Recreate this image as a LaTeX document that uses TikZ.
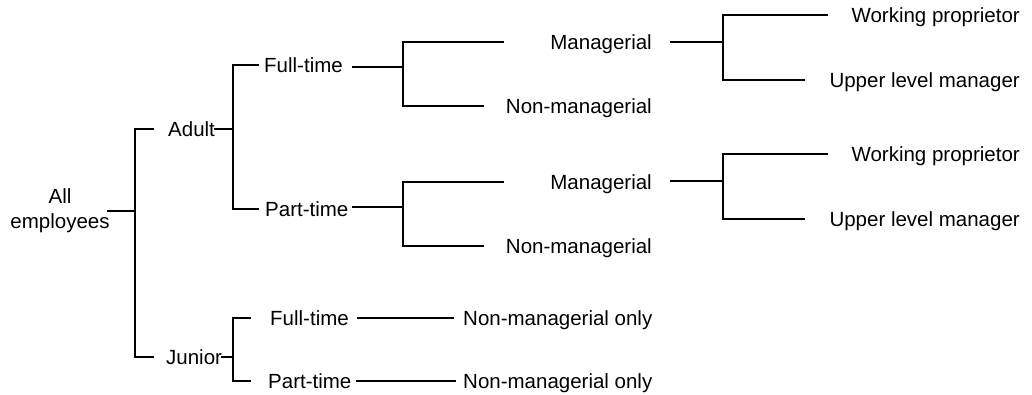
\documentclass[tikz,border=0pt]{standalone}
\usepackage{fontspec}
\setmainfont{Liberation Sans}
\begin{document}
\begin{tikzpicture}[x=1pt,y=-1pt,
  lbl/.style={inner sep=0pt, font=\fontsize{20.5}{25}\selectfont, text height=14.7pt, text depth=0pt},
  conn/.style={line width=1.6pt, line cap=rect}]
\useasboundingbox (0,0) rectangle (1032,394);
% nodes
\node[lbl, align=center, text depth=5pt] (all) at (60,224) {All\\employees};
\node[lbl, anchor=west] (adult) at (168,129) {Adult};
\node[lbl, anchor=west] (ft1) at (264,65) {Full-time};
\node[lbl, anchor=west] (pt1) at (265,209) {Part-time};
\node[lbl, anchor=east] (man1) at (652,42) {Managerial};
\node[lbl, anchor=east] (non1) at (652,106) {Non-managerial};
\node[lbl, anchor=east] (man2) at (652,182) {Managerial};
\node[lbl, anchor=east] (non2) at (652,246) {Non-managerial};
\node[lbl, anchor=east] (wp1) at (1020,15) {Working proprietor};
\node[lbl, anchor=east] (ul1) at (1020,80) {Upper level manager};
\node[lbl, anchor=east] (wp2) at (1020,154) {Working proprietor};
\node[lbl, anchor=east] (ul2) at (1020,219) {Upper level manager};
\node[lbl, anchor=west] (junior) at (166,357) {Junior};
\node[lbl, anchor=west] (ft3) at (270,318) {Full-time};
\node[lbl, anchor=west] (pt3) at (268,381) {Part-time};
\node[lbl, anchor=west] (nmo1) at (463,318) {Non-managerial only};
\node[lbl, anchor=west] (nmo2) at (463,381) {Non-managerial only};
% junctions
\coordinate (j0) at (135,211);
\coordinate (j1) at (233,129);
\coordinate (j2) at (403,67);
\coordinate (j3) at (403,207);
\coordinate (j4) at (723,42);
\coordinate (j5) at (723,181);
\coordinate (j6) at (233,357);
% connectors
\draw[conn] ([xshift=-2pt]all.east |- j0) -- (j0);
\draw[conn] ([xshift=-15pt]adult.west) -| (j0) |- ([xshift=-13pt]junior.west);
\draw[conn] (adult.east) -- (j1);
\draw[conn] ([xshift=-6pt]ft1.west) -| (j1) |- ([xshift=-7pt]pt1.west);
\draw[conn] ([xshift=10pt]ft1.east |- j2) -- (j2);
\draw[conn] ([xshift=-47pt]man1.west) -| (j2) |- ([xshift=-23pt]non1.west);
\draw[conn] ([xshift=4pt]pt1.east |- j3) -- (j3);
\draw[conn] ([xshift=-47pt]man2.west) -| (j3) |- ([xshift=-23pt]non2.west);
\draw[conn] ([xshift=19pt]man1.east |- j4) -- (j4);
\draw[conn] ([xshift=-24pt]wp1.west) -| (j4) |- ([xshift=-25pt]ul1.west);
\draw[conn] ([xshift=19pt]man2.east |- j5) -- (j5);
\draw[conn] ([xshift=-24pt]wp2.west) -| (j5) |- ([xshift=-25pt]ul2.west);
\draw[conn] (junior.east) -- (j6);
\draw[conn] ([xshift=-20pt]ft3.west) -| (j6) |- ([xshift=-18pt]pt3.west);
\draw[conn] ([xshift=9pt]ft3.east) -- ([xshift=-10pt]nmo1.west);
\draw[conn] ([xshift=5pt]pt3.east) -- ([xshift=-8pt]nmo2.west);
\end{tikzpicture}
\end{document}
